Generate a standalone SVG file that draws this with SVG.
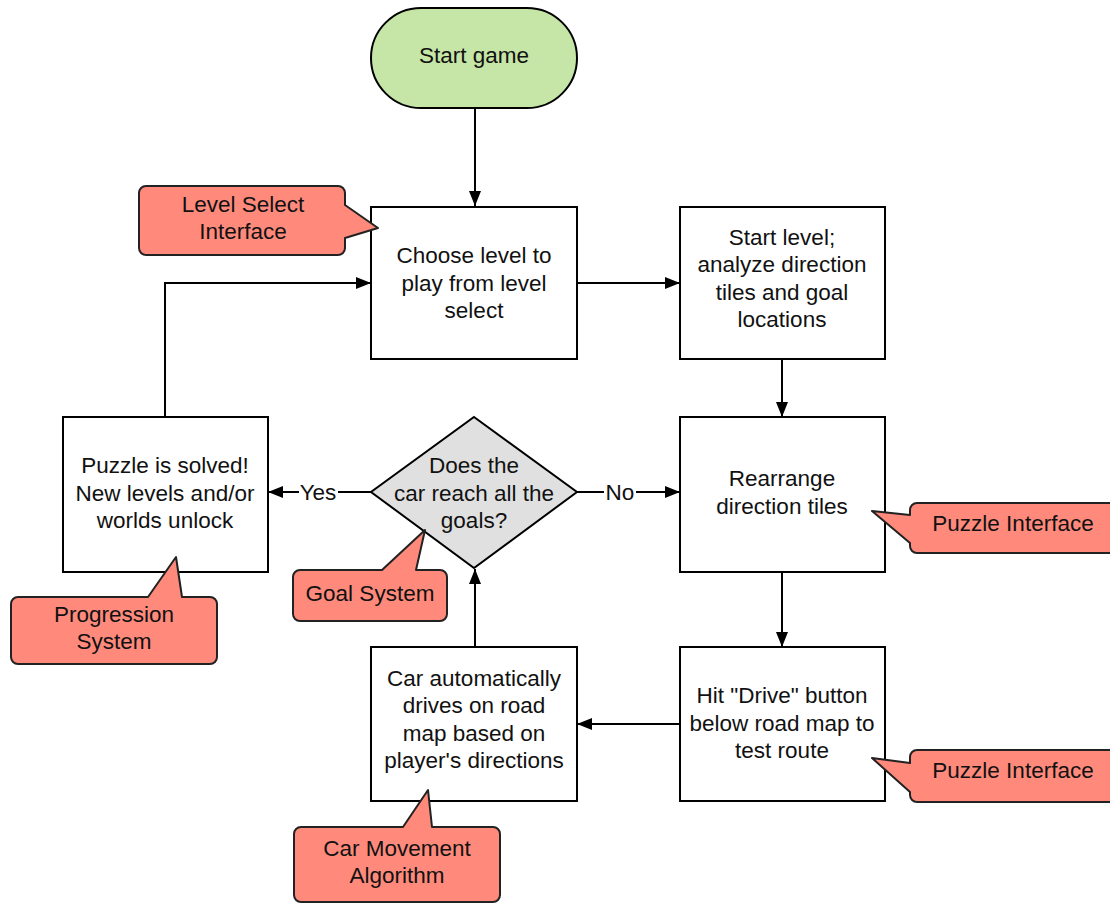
<svg xmlns="http://www.w3.org/2000/svg" width="1110" height="903" viewBox="0 0 1110 903">
<defs>
<marker id="arr" viewBox="0 0 15 12" refX="15" refY="6" markerWidth="15" markerHeight="12" markerUnits="userSpaceOnUse" orient="auto">
<path d="M0,0 L15,6 L0,12 Z" fill="#000"/>
</marker>
<style>
text{font-family:"Liberation Sans",Arial,sans-serif;font-size:22.5px;fill:#111;text-anchor:middle}
.box{fill:#fff;stroke:#000;stroke-width:2}
.call{fill:#FF8A7C;stroke:#222;stroke-width:2;stroke-linejoin:round}
.con{fill:none;stroke:#000;stroke-width:2}
</style>
</defs>
<rect width="1110" height="903" fill="#fff"/>
<g id="connectors">
<path class="con" d="M475,108 V206" marker-end="url(#arr)"/>
<path class="con" d="M577,283 H680" marker-end="url(#arr)"/>
<path class="con" d="M782,360 V417" marker-end="url(#arr)"/>
<path class="con" d="M782,572 V647" marker-end="url(#arr)"/>
<path class="con" d="M680,724 H577" marker-end="url(#arr)"/>
<path class="con" d="M475,647 V569" marker-end="url(#arr)"/>
<path class="con" d="M165,417 V283 H371" marker-end="url(#arr)"/>
<path class="con" d="M371,492 H268" marker-end="url(#arr)"/>
<path class="con" d="M577,492 H680" marker-end="url(#arr)"/>
<rect x="299" y="480" width="39" height="24" fill="#fff"/>
<text x="318" y="500">Yes</text>
<rect x="604" y="480" width="32" height="24" fill="#fff"/>
<text x="620" y="500">No</text>
</g>
<g id="start">
<rect x="371" y="8" width="206" height="100" rx="50" ry="50" fill="#C5E6A6" stroke="#000" stroke-width="2"/>
<text x="474" y="63">Start game</text>
</g>
<g id="choose">
<rect class="box" x="371" y="207" width="206" height="152"/>
<text x="474" y="263">Choose level to</text>
<text x="474" y="291">play from level</text>
<text x="474" y="318">select</text>
</g>
<g id="startlevel">
<rect class="box" x="680" y="207" width="205" height="152"/>
<text x="782" y="245">Start level;</text>
<text x="782" y="272">analyze direction</text>
<text x="782" y="300">tiles and goal</text>
<text x="782" y="327">locations</text>
</g>
<g id="solved">
<rect class="box" x="63" y="417" width="205" height="155"/>
<text x="165" y="473">Puzzle is solved!</text>
<text x="165" y="501">New levels and/or</text>
<text x="165" y="528">worlds unlock</text>
</g>
<g id="decision">
<polygon points="474,417 577,492 474,568 371,492" fill="#E0E0E0" stroke="#000" stroke-width="2"/>
<text x="474" y="473">Does the</text>
<text x="474" y="501">car reach all the</text>
<text x="474" y="528">goals?</text>
</g>
<g id="rearrange">
<rect class="box" x="680" y="417" width="205" height="155"/>
<text x="782" y="486">Rearrange</text>
<text x="782" y="514">direction tiles</text>
</g>
<g id="drive">
<rect class="box" x="680" y="647" width="205" height="154"/>
<text x="782" y="703">Hit "Drive" button</text>
<text x="782" y="731">below road map to</text>
<text x="782" y="758">test route</text>
</g>
<g id="carauto">
<rect class="box" x="371" y="647" width="206" height="154"/>
<text x="474" y="686">Car automatically</text>
<text x="474" y="713">drives on road</text>
<text x="474" y="741">map based on</text>
<text x="474" y="768">player's directions</text>
</g>
<g id="callout-level">
<path class="call" d="M146,186 H338 A7,7 0 0 1 345,193 V205 L378,228 L345,238 V248 A7,7 0 0 1 338,255 H146 A7,7 0 0 1 139,248 V193 A7,7 0 0 1 146,186 Z"/>
<text x="243" y="212">Level Select</text>
<text x="243" y="239">Interface</text>
</g>
<g id="callout-goal">
<path class="call" d="M300,570 H382 L425,530 L416,570 H440 A7,7 0 0 1 447,577 V614 A7,7 0 0 1 440,621 H300 A7,7 0 0 1 293,614 V577 A7,7 0 0 1 300,570 Z"/>
<text x="370" y="601">Goal System</text>
</g>
<g id="callout-progression">
<path class="call" d="M18,597 H148 L176,557 L182,597 H210 A7,7 0 0 1 217,604 V657 A7,7 0 0 1 210,664 H18 A7,7 0 0 1 11,657 V604 A7,7 0 0 1 18,597 Z"/>
<text x="114" y="622">Progression</text>
<text x="114" y="649">System</text>
</g>
<g id="callout-puzzle1">
<path class="call" d="M917,503 H1118 V553 H917 A7,7 0 0 1 910,546 V543 L872,511 L910,515 V510 A7,7 0 0 1 917,503 Z"/>
<text x="1013" y="531">Puzzle Interface</text>
</g>
<g id="callout-puzzle2">
<path class="call" d="M917,750 H1118 V802 H917 A7,7 0 0 1 910,795 V792 L872,758 L910,763 V757 A7,7 0 0 1 917,750 Z"/>
<text x="1013" y="778">Puzzle Interface</text>
</g>
<g id="callout-car">
<path class="call" d="M301,827 H403 L428,790 L432,827 H493 A7,7 0 0 1 500,834 V895 A7,7 0 0 1 493,902 H301 A7,7 0 0 1 294,895 V834 A7,7 0 0 1 301,827 Z"/>
<text x="397" y="856">Car Movement</text>
<text x="397" y="883">Algorithm</text>
</g>
</svg>
